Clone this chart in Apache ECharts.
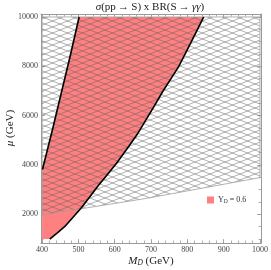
<!DOCTYPE html>
<html><head><meta charset="utf-8">
<script src="https://cdn.jsdelivr.net/npm/echarts@6/dist/echarts.min.js"></script>
<style>html,body{margin:0;padding:0;background:#fff}#c{width:271px;height:270px}</style>
</head><body><div id="c"></div>
<script>
// ---- data ----
const xTickLabels = [400, 500, 600, 700, 800, 900, 1000];
const yTickLabels = [2000, 4000, 6000, 8000, 10000];
// left boundary of the Y_D = 0.6 band (M_D, mu)
const leftCurve = [[401, 3820], [428, 5400], [453, 6930], [478, 8460], [502, 10000]];
// right boundary of the Y_D = 0.6 band (M_D, mu)
const rightCurve = [[421, 1000], [442, 1250], [462, 1500], [484, 1860], [507, 2250], [531, 2700], [556, 3190], [580, 3620], [605, 4070], [634, 4660], [664, 5290], [686, 5830], [710, 6420], [733, 7000], [755, 7500], [776, 7990], [794, 8500], [811, 9000], [828, 9500], [845, 10000]];
// lower edge of the hatched (excluded) region
const hatchLower = [[400, 1975], [690, 2655], [1000, 3490]];
const hatchTop = 10000;
const bandBottom = 1000;
const legendName = 'Y_D = 0.6';

// ---- styling ----
const SERIF = '"Liberation Serif", "DejaVu Serif", serif';
const FRAME = '#9a9a9a';
const RED = '#ff8080';
const XMIN = 397, XMAX = 1003, YMIN = 840, YMAX = 10120;

function range(a, b, s) { const r = []; for (let v = a; v <= b + 1e-9; v += s) r.push(v); return r; }
const xMinor = range(400, 1000, 20);
const yMinor = range(1000, 10000, 500);

// hatch pattern tile
const W = 15, H = 6;
const pc = document.createElement('canvas'); pc.width = W; pc.height = H;
const cx = pc.getContext('2d');
cx.strokeStyle = 'rgba(95,95,95,0.7)'; cx.lineWidth = 0.7;
cx.beginPath();
for (let k = -1; k <= 1; k++) {
  cx.moveTo(-W, -H + k * H); cx.lineTo(2 * W, 2 * H + k * H);
  cx.moveTo(-W, 2 * H + k * H); cx.lineTo(2 * W, -H + k * H);
}
cx.stroke();

const redPoly = [[400, bandBottom]].concat([[400, leftCurve[0][1]]], leftCurve, rightCurve.slice().reverse());
const hatchPoly = hatchLower.concat([[1000, hatchTop], [400, hatchTop]]);

function polySeries(name, pts, style, z, color) {
  return {
    type: 'custom', name: name, coordinateSystem: 'cartesian2d', xAxisIndex: 0, yAxisIndex: 0, z: z,
    silent: true, animation: false, itemStyle: color ? { color: color } : undefined,
    data: [pts[0]],
    renderItem: function (params, api) {
      return { type: 'polygon', shape: { points: pts.map(function (p) { return api.coord(p); }) }, style: style };
    }
  };
}

function fmt(v) { return String(v); }
function xAx(pos, major) {
  return {
    type: 'value', min: XMIN, max: XMAX, position: pos, splitLine: { show: false },
    axisLine: { show: major, onZero: false, lineStyle: { color: FRAME, width: 1 } },
    axisTick: { show: true, inside: true, length: major ? 4 : 2.5, customValues: major ? xTickLabels : xMinor, lineStyle: { color: FRAME, width: 0.8 } },
    axisLabel: { show: major && pos === 'bottom', customValues: xTickLabels, formatter: fmt, margin: 3, fontSize: 8, fontFamily: SERIF, color: '#444' }
  };
}
function yAx(pos, major) {
  return {
    type: 'value', min: YMIN, max: YMAX, position: pos, splitLine: { show: false },
    axisLine: { show: major, onZero: false, lineStyle: { color: FRAME, width: 1 } },
    axisTick: { show: true, inside: true, length: major ? 4 : 2.5, customValues: major ? yTickLabels : yMinor, lineStyle: { color: FRAME, width: 0.8 } },
    axisLabel: { show: major && pos === 'left', customValues: yTickLabels, formatter: fmt, margin: 3, fontSize: 8, fontFamily: SERIF, color: '#444' }
  };
}

const chart = echarts.init(document.getElementById('c'), null, { renderer: 'canvas' });
chart.setOption({
  animation: false,
  grid: { left: 41, right: 5, top: 14, bottom: 27 },
  xAxis: [xAx('bottom', true), xAx('bottom', false), xAx('top', true), xAx('top', false)],
  yAxis: [yAx('left', true), yAx('left', false), yAx('right', true), yAx('right', false)],
  legend: {
    left: 202, top: 191, itemWidth: 7, itemHeight: 7, icon: 'rect', itemGap: 4,
    data: [{ name: legendName, icon: 'rect', itemStyle: { color: RED } }],
    formatter: function () { return '{n|Y}{s|D}{n| = 0.6}'; },
    textStyle: {
      fontFamily: SERIF, fontSize: 8, color: '#333', padding: [0, 0, 0, -1],
      rich: { n: { fontFamily: SERIF, fontSize: 8, color: '#333' }, s: { fontFamily: SERIF, fontSize: 5.5, color: '#333', padding: [4, 0, 0, 0] } }
    }
  },
  graphic: [
    { type: 'text', x: 150, y: 7, style: { text: '{i|σ}(pp\u2009→\u2009S) x BR(S\u2009→\u2009{i|γγ})', textAlign: 'center', textVerticalAlign: 'middle', font: '11px ' + SERIF, fill: '#222',
      rich: { i: { fontStyle: 'italic', fontFamily: SERIF, fontSize: 11, fill: '#222' } } } },
    { type: 'text', x: 151, y: 261, style: { text: '{i|M}{s|D}{n| (GeV)}', textAlign: 'center', textVerticalAlign: 'middle', font: '11px ' + SERIF, fill: '#222',
      rich: { i: { fontStyle: 'italic', fontFamily: SERIF, fontSize: 11 }, s: { fontStyle: 'italic', fontFamily: SERIF, fontSize: 7.5, padding: [5, 0, 0, 0] }, n: { fontFamily: SERIF, fontSize: 11 } } } },
    { type: 'text', x: 10, y: 128, rotation: Math.PI / 2, style: { text: '{i|μ}{n| (GeV)}', textAlign: 'center', textVerticalAlign: 'middle', font: '11px ' + SERIF, fill: '#222',
      rich: { i: { fontStyle: 'italic', fontFamily: SERIF, fontSize: 11 }, n: { fontFamily: SERIF, fontSize: 11 } } } }
  ],
  series: [
    polySeries(legendName, redPoly, { fill: RED, stroke: null }, 1, RED),
    polySeries('hatch', hatchPoly, { fill: { image: pc, repeat: 'repeat' }, stroke: '#a0a0a0', lineWidth: 0.8 }, 2),
    { type: 'line', name: 'left', data: leftCurve, xAxisIndex: 0, yAxisIndex: 0, showSymbol: false, symbol: 'none', z: 5, silent: true,
      lineStyle: { color: '#000', width: 1.6 } },
    { type: 'line', name: 'right', data: rightCurve, xAxisIndex: 0, yAxisIndex: 0, showSymbol: false, symbol: 'none', z: 5, silent: true,
      lineStyle: { color: '#000', width: 1.6 } }
  ]
});
</script>
</body></html>
